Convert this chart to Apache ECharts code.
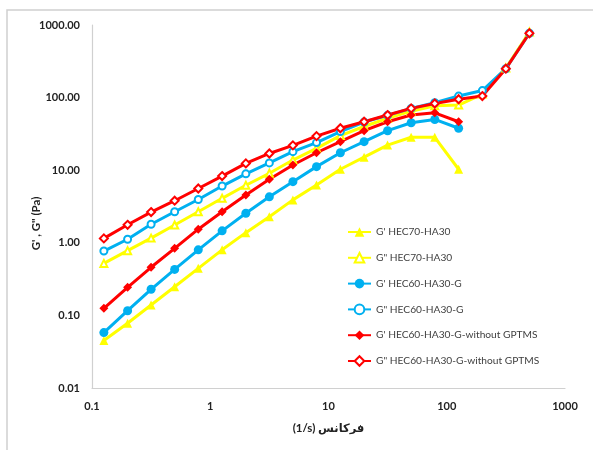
<!DOCTYPE html>
<html>
<head>
<meta charset="utf-8">
<script src="https://cdn.jsdelivr.net/npm/echarts@6/dist/echarts.min.js"></script>
<style>
  html, body { margin: 0; padding: 0; background: #fff; }
  #chart { width: 593px; height: 450px; }
</style>
</head>
<body>
<div id="chart"></div>
<script>
// frequency (1/s)
const freq = [0.126, 0.2, 0.316, 0.5, 0.792, 1.26, 2, 3.16, 5, 7.92, 12.6, 20, 31.6, 50, 79.2, 126, 200, 316, 500];

const gp70 = [0.045, 0.078, 0.139, 0.248, 0.445, 0.80, 1.38, 2.29, 3.9, 6.25, 10.3, 15.1, 22.2, 28.4, 28.4, 10.3];
const gpp70 = [0.52, 0.78, 1.16, 1.76, 2.68, 4.1, 6.2, 9.06, 13.8, 20, 30, 40, 52, 65, 77, 79, 112, 255, 800];
const gp60 = [0.058, 0.116, 0.229, 0.43, 0.80, 1.46, 2.55, 4.3, 6.95, 11.2, 17.4, 24.7, 35, 45, 50, 37.8];
const gpp60 = [0.77, 1.12, 1.8, 2.68, 3.95, 6.05, 8.9, 12.6, 18, 24, 34, 46, 57, 71, 85, 105, 125, 250, 770];
const gpNoG = [0.125, 0.244, 0.46, 0.84, 1.54, 2.68, 4.55, 7.5, 11.8, 17.4, 24.7, 35, 46.5, 57.5, 61.7, 46.5];
const gppNoG = [1.15, 1.77, 2.65, 3.8, 5.6, 8.3, 12.4, 17, 22, 29.5, 37.8, 46.5, 57.5, 71, 83, 95, 105, 250, 770];

const names = [
  "G' HEC70-HA30",
  'G" HEC70-HA30',
  "G' HEC60-HA30-G",
  'G" HEC60-HA30-G',
  "G' HEC60-HA30-G-without GPTMS",
  'G" HEC60-HA30-G-without GPTMS'
];

const YELLOW = '#ffff00', BLUE = '#00b0f0', RED = '#ff0000';
const font = 'Lato, "DejaVu Sans", sans-serif';

function pairs(vals) {
  return vals.map((v, i) => [freq[i], v]);
}

function mkSeries(name, vals, color, symbol, size, open) {
  return {
    name: name,
    type: 'line',
    data: pairs(vals),
    symbol: symbol,
    symbolSize: size,
    showAllSymbol: true,
    lineStyle: { color: color, width: 3 },
    itemStyle: open ? { color: color, borderColor: color, borderWidth: 1 } : { color: color },
    emphasis: { disabled: true },
    animation: false
  };
}

const chart = echarts.init(document.getElementById('chart'));
chart.setOption({
  backgroundColor: '#fff',
  graphic: [{
    type: 'rect',
    shape: { x: 7, y: 10, width: 620, height: 480 },
    style: { fill: 'none', stroke: '#d0d0d0', lineWidth: 1.5 },
    silent: true
  }],
  grid: { left: 92, right: 28, top: 25, bottom: 62 },
  legend: {
    orient: 'vertical',
    left: 342,
    top: 222,
    itemWidth: 23,
    itemHeight: 12,
    itemGap: 15,
    textStyle: { fontFamily: font, fontSize: 10.2, color: '#404040' },
    data: names
  },
  xAxis: {
    type: 'log',
    logBase: 10,
    min: 0.1,
    max: 1000,
    name: '(1/s) فرکانس',
    nameLocation: 'middle',
    nameGap: 34,
    nameTextStyle: { fontFamily: font, fontSize: 11.5, fontWeight: 'bold', color: '#222' },
    axisLine: { lineStyle: { color: '#d0d0d0', width: 1.2 } },
    axisTick: { show: false },
    minorTick: { show: false },
    splitLine: { show: false },
    axisLabel: {
      margin: 13,
      fontFamily: font, fontSize: 11, fontWeight: 'bold', color: '#222',
      formatter: v => (v < 0.5 ? '0.1' : String(Math.round(v)))
    }
  },
  yAxis: {
    type: 'log',
    logBase: 10,
    min: 0.01,
    max: 1000,
    name: 'G\' , G" (Pa)',
    nameLocation: 'middle',
    nameGap: 50,
    nameMoveOverlap: false,
    nameRotate: 90,
    nameTextStyle: {
      fontFamily: font, fontSize: 11.5, fontWeight: 'bold', color: '#222',
      padding: [0, 34, 0, 0]
    },
    axisLine: { show: true, lineStyle: { color: '#d0d0d0', width: 1.2 } },
    axisTick: { show: false },
    minorTick: { show: false },
    splitLine: { show: false },
    axisLabel: {
      margin: 12,
      fontFamily: font, fontSize: 11, fontWeight: 'bold', color: '#222',
      formatter: v => v.toFixed(2)
    }
  },
  series: [
    mkSeries(names[0], gp70, YELLOW, 'triangle', 9, false),
    mkSeries(names[1], gpp70, YELLOW, 'emptyTriangle', 7, true),
    mkSeries(names[2], gp60, BLUE, 'circle', 9, false),
    mkSeries(names[3], gpp60, BLUE, 'emptyCircle', 7, true),
    mkSeries(names[4], gpNoG, RED, 'diamond', 9, false),
    mkSeries(names[5], gppNoG, RED, 'emptyDiamond', 8, true)
  ]
});
</script>
</body>
</html>
